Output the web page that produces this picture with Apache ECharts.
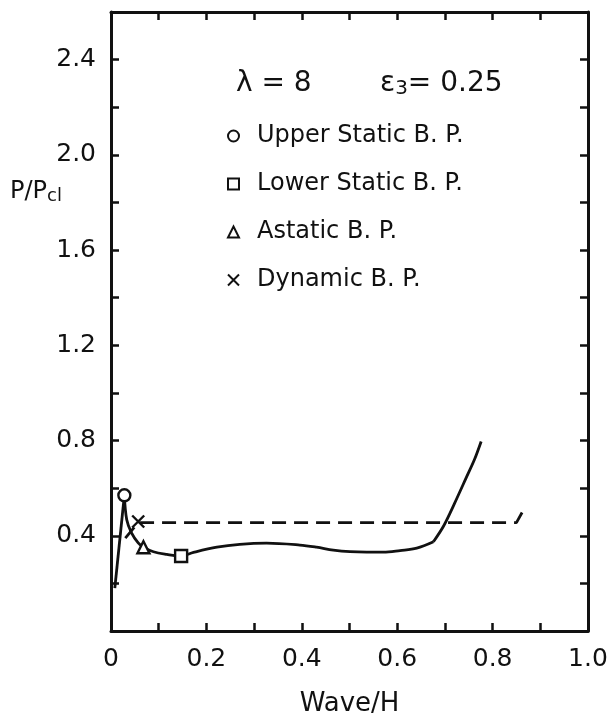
<!DOCTYPE html>
<html>
<head>
<meta charset="utf-8">
<script src="https://cdn.jsdelivr.net/npm/echarts@6/dist/echarts.min.js"></script>
<style>
  html, body { margin: 0; padding: 0; background: #fff; }
  #chart { width: 611px; height: 722px; }
</style>
</head>
<body>
<div id="chart"></div>
<script>
// values (x = Wave/H, y = P/Pcl)
const xTickLabels = ['0', '0.2', '0.4', '0.6', '0.8', '1.0']
const yTickLabels = ['0.4', '0.8', '1.2', '1.6', '2.0', '2.4']

const solidLeft = [[0.008, 0.18], [0.028, 0.57]]
const solidMid = [
  [0.028, 0.57], [0.033, 0.467], [0.043, 0.412], [0.057, 0.370], [0.068, 0.352],
  [0.089, 0.333], [0.117, 0.322], [0.147, 0.315], [0.173, 0.330], [0.222, 0.352],
  [0.270, 0.364], [0.326, 0.369], [0.396, 0.361], [0.431, 0.352], [0.466, 0.340],
  [0.501, 0.333], [0.536, 0.331], [0.571, 0.331], [0.606, 0.338], [0.641, 0.348],
  [0.676, 0.375]
]
const solidRight = [[0.676, 0.375], [0.697, 0.44], [0.720, 0.535], [0.745, 0.645], [0.762, 0.72], [0.776, 0.796]]
const dynamicLine = [[0.030, 0.39], [0.057, 0.455], [0.850, 0.455], [0.868, 0.52]]

const upperStatic = [[0.028, 0.57]]
const lowerStatic = [[0.147, 0.315]]
const astatic = [[0.068, 0.352]]
const dynamicPt = [[0.057, 0.46]]

const crossPath = 'path://M0,0L10,10M10,0L0,10'
const black = '#111'

const chart = echarts.init(document.getElementById('chart'))

function lineSeries (data, smooth, dashed) {
  return {
    type: 'line',
    data: data,
    smooth: smooth,
    showSymbol: false,
    silent: true,
    lineStyle: { color: black, width: 2.8, type: dashed ? [14, 8] : 'solid' }
  }
}

function markSeries (name, data, symbol, size) {
  return {
    name: name,
    type: 'scatter',
    data: data,
    symbol: symbol,
    symbolSize: size,
    z: 5,
    itemStyle: {
      color: symbol === crossPath ? black : '#fff',
      borderColor: black,
      borderWidth: 2.4,
      opacity: 1
    }
  }
}

const axisCommon = {
  type: 'value',
  axisLine: { show: true, onZero: false, lineStyle: { color: black, width: 3 } },
  axisTick: { show: true, inside: true, length: 8, lineStyle: { color: black, width: 2.5 } },
  splitLine: { show: false }
}

const font = 'DejaVu Sans'

chart.setOption({
  animation: false,
  backgroundColor: '#fff',
  grid: { left: 111, right: 23, top: 12, bottom: 91 },
  xAxis: [
    Object.assign({}, axisCommon, {
      min: 0, max: 1, interval: 0.1,
      name: 'Wave/H', nameLocation: 'middle', nameGap: 60,
      nameTextStyle: { color: black, fontSize: 26, fontFamily: font },
      axisLabel: {
        color: black, fontSize: 25, fontFamily: font, margin: 16,
        showMinLabel: true, showMaxLabel: true,
        formatter: v => {
          const i = Math.round(v * 10)
          return i % 2 === 0 ? xTickLabels[i / 2] : ''
        }
      }
    }),
    Object.assign({}, axisCommon, {
      min: 0, max: 1, interval: 0.1, position: 'top',
      axisLabel: { show: false }
    })
  ],
  yAxis: [
    Object.assign({}, axisCommon, {
      min: 0, max: 2.6, interval: 0.2,
      axisLabel: {
        color: black, fontSize: 25, fontFamily: font, margin: 15,
        formatter: v => {
          const i = Math.round(v * 10)
          return i > 0 && i % 4 === 0 ? yTickLabels[i / 4 - 1] : ''
        }
      }
    }),
    Object.assign({}, axisCommon, {
      min: 0, max: 2.6, interval: 0.2, position: 'right',
      axisLabel: { show: false }
    })
  ],
  legend: {
    orient: 'vertical',
    left: 222,
    top: 119,
    itemWidth: 11,
    itemHeight: 11,
    itemGap: 24,
    selectedMode: false,
    textStyle: { color: black, fontSize: 24, lineHeight: 24, fontFamily: font, padding: [0, 0, 0, 13] },
    data: ['Upper Static B. P.', 'Lower Static B. P.', 'Astatic B. P.', 'Dynamic B. P.']
  },
  graphic: [
    {
      type: 'text', left: 10, top: 180,
      style: {
        text: '{a|P/P}{b|cl}',
        rich: {
          a: { fontSize: 24, fontFamily: font, fill: black },
          b: { fontSize: 18, fontFamily: font, fill: black, padding: [8, 0, 0, 0] }
        }
      }
    },
    {
      type: 'text', left: 236, top: 70,
      style: { text: 'λ = 8', fontSize: 28, fontFamily: font, fill: black }
    },
    {
      type: 'text', left: 380, top: 70,
      style: {
        text: '{a|ε}{b|3}{a|= 0.25}',
        rich: {
          a: { fontSize: 28, fontFamily: font, fill: black },
          b: { fontSize: 20, fontFamily: font, fill: black, padding: [10, 0, 0, 0] }
        }
      }
    }
  ],
  series: [
    lineSeries(solidLeft, false, false),
    lineSeries(solidMid, 0.35, false),
    lineSeries(solidRight, 0.3, false),
    lineSeries(dynamicLine, false, true),
    markSeries('Upper Static B. P.', upperStatic, 'circle', 12),
    markSeries('Lower Static B. P.', lowerStatic, 'rect', 12),
    markSeries('Astatic B. P.', astatic, 'triangle', 12),
    markSeries('Dynamic B. P.', dynamicPt, crossPath, 12)
  ]
})
</script>
</body>
</html>
